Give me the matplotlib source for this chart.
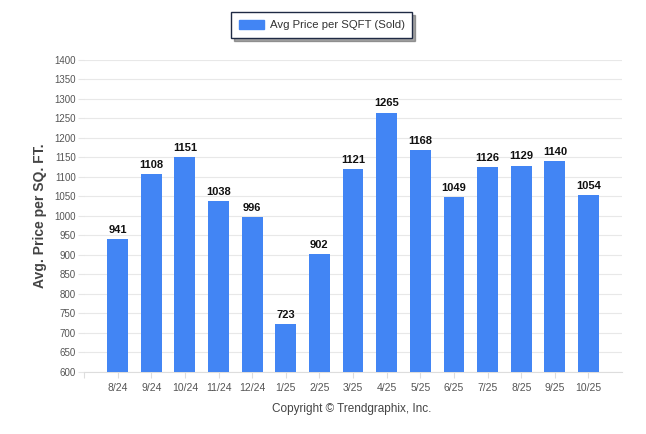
import matplotlib

matplotlib.use("Agg")
import matplotlib.pyplot as plt
from matplotlib.patches import Patch

months = ["8/24", "9/24", "10/24", "11/24", "12/24", "1/25", "2/25", "3/25",
          "4/25", "5/25", "6/25", "7/25", "8/25", "9/25", "10/25"]
avg_price = [941, 1108, 1151, 1038, 996, 723, 902, 1121, 1265, 1168, 1049, 1126, 1129, 1140, 1054]
y_ticks = list(range(600, 1401, 50))

BLUE = "#4285f4"
plt.rcParams["font.family"] = ["Liberation Sans", "DejaVu Sans"]

fig = plt.figure(figsize=(6.46, 4.34), dpi=100)
ax = fig.add_axes([0.130, 0.143, 0.833, 0.719])

xs = list(range(len(months)))
ax.bar(xs, avg_price, width=0.62, color=BLUE, zorder=3)
for x, v in zip(xs, avg_price):
    ax.annotate(f"{v}", (x, v), xytext=(0, 3), textcoords="offset points",
                ha="center", va="bottom", fontsize=8, fontweight="bold", color="#111111", zorder=4)

ax.set_xlim(-1, len(months))
ax.set_ylim(600, 1400)
ax.set_yticks(y_ticks)
ax.set_yticklabels([str(t) for t in y_ticks], fontsize=7, color="#555555")
ax.set_xticks([-1] + xs)
ax.set_xticklabels([""] + months, fontsize=7.5, color="#555555")
ax.tick_params(axis="y", length=4, color="#e6e6e6", pad=2)
ax.tick_params(axis="x", length=4, color="#dddddd", pad=4)
ax.grid(axis="y", color="#e8e8e8", linewidth=0.8, zorder=0)
for side in ["top", "right", "left"]:
    ax.spines[side].set_visible(False)
ax.spines["bottom"].set_color("#dddddd")

ax.set_ylabel("Avg. Price per SQ. FT.", fontsize=10, fontweight="bold", color="#444444", labelpad=5)

fig.text(0.545, 0.057, "Copyright \u00a9 Trendgraphix, Inc.", ha="center", va="center",
         fontsize=8.5, color="#444444")

leg = fig.legend(handles=[Patch(color=BLUE, label="Avg Price per SQFT (Sold)")],
                 loc="center", bbox_to_anchor=(0.498, 0.942), fontsize=8.2, frameon=True,
                 fancybox=False, shadow=True, handlelength=2.2, handleheight=0.9,
                 borderpad=0.65, handletextpad=0.5)
leg.get_frame().set_edgecolor("#1f2a44")
leg.get_frame().set_linewidth(1.0)
for t in leg.get_texts():
    t.set_color("#333333")

fig.savefig("out.png", dpi=100)
